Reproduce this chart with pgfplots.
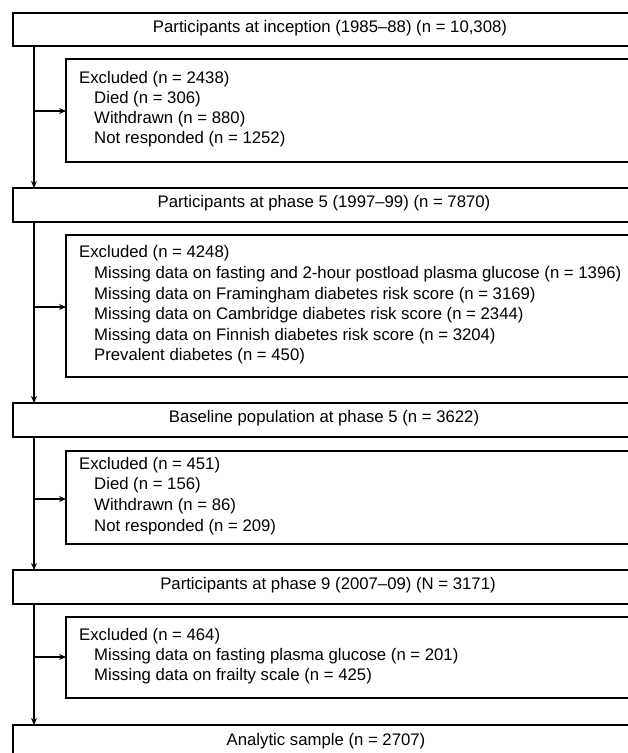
\documentclass[border=0pt]{standalone}
\usepackage{pgfplots}
\pgfplotsset{compat=1.18}
\usepackage{fontspec}
\setmainfont{Liberation Sans}
\usetikzlibrary{arrows.meta}

\begin{document}
\begin{tikzpicture}[
    box/.style={line width=1.5bp},
    lbl/.style={font=\fontsize{16.8}{20}\selectfont, inner sep=0pt},
    arr/.style={line width=1.3bp, -{Stealth[length=7bp,width=6bp]}}
  ]
  \begin{axis}[
      width=628bp, height=753bp,
      scale only axis,
      xmin=0, xmax=628,
      ymin=0, ymax=753,
      y dir=reverse,
      hide axis,
      clip=true
  ]
  \coordinate (SW) at (axis cs:0,753);
  \coordinate (NE) at (axis cs:628,0);

  % main boxes
  \draw[box] (axis cs:13,13)  rectangle (axis cs:641,46);
  \draw[box] (axis cs:13,188) rectangle (axis cs:641,222);
  \draw[box] (axis cs:13,403) rectangle (axis cs:641,437);
  \draw[box] (axis cs:13,570) rectangle (axis cs:641,604);
  \draw[box] (axis cs:13,725) rectangle (axis cs:641,775);

  \node[lbl, anchor=mid] at (axis cs:330,30)  {Participants at inception (1985--88) (n = 10,308)};
  \node[lbl, anchor=mid] at (axis cs:324,205) {Participants at phase 5 (1997--99) (n = 7870)};
  \node[lbl, anchor=mid] at (axis cs:324,420) {Baseline population at phase 5 (n = 3622)};
  \node[lbl, anchor=mid] at (axis cs:328,587) {Participants at phase 9 (2007--09) (N = 3171)};
  \node[lbl, anchor=mid] at (axis cs:326,743) {Analytic sample (n = 2707)};

  % exclusion boxes
  \draw[box] (axis cs:66,59)  rectangle (axis cs:660,162);
  \draw[box] (axis cs:66,235) rectangle (axis cs:660,377);
  \draw[box] (axis cs:66,451) rectangle (axis cs:660,544);
  \draw[box] (axis cs:66,617) rectangle (axis cs:660,698);

  \node[lbl, anchor=mid west] at (axis cs:79,81)  {Excluded (n = 2438)};
  \node[lbl, anchor=mid west] at (axis cs:94,101) {Died (n = 306)};
  \node[lbl, anchor=mid west] at (axis cs:94,121) {Withdrawn (n = 880)};
  \node[lbl, anchor=mid west] at (axis cs:94,141) {Not responded (n = 1252)};

  \node[lbl, anchor=mid west] at (axis cs:79,255) {Excluded (n = 4248)};
  \node[lbl, anchor=mid west] at (axis cs:94,276) {Missing data on fasting and 2-hour postload plasma glucose (n = 1396)};
  \node[lbl, anchor=mid west] at (axis cs:94,297) {Missing data on Framingham diabetes risk score (n = 3169)};
  \node[lbl, anchor=mid west] at (axis cs:94,317) {Missing data on Cambridge diabetes risk score (n = 2344)};
  \node[lbl, anchor=mid west] at (axis cs:94,338) {Missing data on Finnish diabetes risk score (n = 3204)};
  \node[lbl, anchor=mid west] at (axis cs:94,358) {Prevalent diabetes (n = 450)};

  \node[lbl, anchor=mid west] at (axis cs:79,467) {Excluded (n = 451)};
  \node[lbl, anchor=mid west] at (axis cs:94,487) {Died (n = 156)};
  \node[lbl, anchor=mid west] at (axis cs:94,508) {Withdrawn (n = 86)};
  \node[lbl, anchor=mid west] at (axis cs:94,529) {Not responded (n = 209)};

  \node[lbl, anchor=mid west] at (axis cs:79,638) {Excluded (n = 464)};
  \node[lbl, anchor=mid west] at (axis cs:94,658) {Missing data on fasting plasma glucose (n = 201)};
  \node[lbl, anchor=mid west] at (axis cs:94,678) {Missing data on frailty scale (n = 425)};

  % connectors
  \draw[arr] (axis cs:34,46)  -- (axis cs:34,188);
  \draw[arr] (axis cs:34,222) -- (axis cs:34,403);
  \draw[arr] (axis cs:34,437) -- (axis cs:34,570);
  \draw[arr] (axis cs:34,604) -- (axis cs:34,725);
  \draw[arr] (axis cs:34,111) -- (axis cs:66,111);
  \draw[arr] (axis cs:34,307) -- (axis cs:66,307);
  \draw[arr] (axis cs:34,499) -- (axis cs:66,499);
  \draw[arr] (axis cs:34,657) -- (axis cs:66,657);
  \end{axis}
  \pgfresetboundingbox
  \useasboundingbox (SW) rectangle (NE);
\end{tikzpicture}
\end{document}
